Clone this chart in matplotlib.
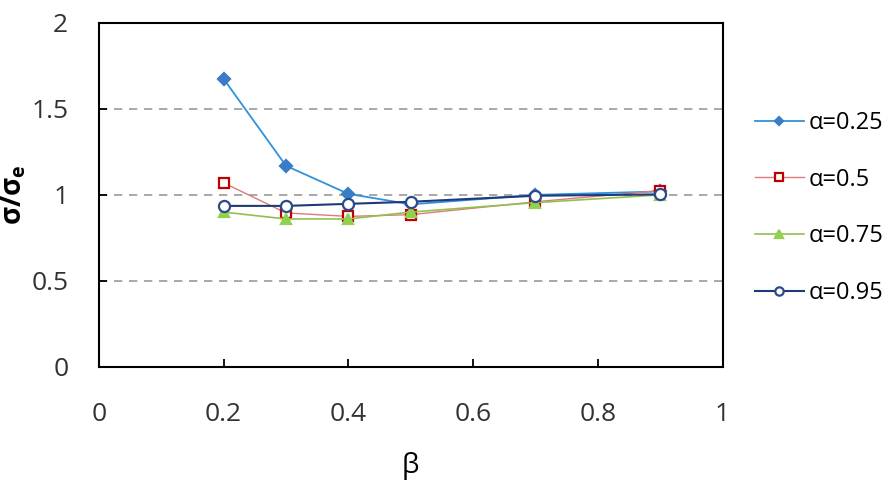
import matplotlib.pyplot as plt

plt.rcParams['font.family'] = ['Open Sans', 'DejaVu Sans']

beta = [0.2, 0.3, 0.4, 0.5, 0.7, 0.9]

a025 = [1.674, 1.169, 1.006, 0.945, 1.0, 1.02]
a050 = [1.07, 0.895, 0.875, 0.885, 0.96, 1.025]
a075 = [0.90, 0.86, 0.86, 0.90, 0.955, 1.0]
a095 = [0.936, 0.936, 0.948, 0.96, 0.995, 1.003]

labels = ['α=0.25', 'α=0.5', 'α=0.75', 'α=0.95']

fig = plt.figure(figsize=(8.91, 4.86), dpi=100)
ax = fig.add_axes([0.111, 0.245, 0.7, 0.708])

# series: (values, line colour, line width, marker, marker face, marker edge, marker size)
styles = [
    (a025, '#2f92dc', 1.3, 'D', '#3a7cc6', '#3a7cc6', 6),
    (a050, '#e07a7a', 1.0, 's', 'white', '#c00000', 7),
    (a075, '#92c050', 1.2, '^', '#92d050', '#92d050', 7.5),
    (a095, '#1f3a7a', 1.5, 'o', 'white', '#2a4a8a', 8),
]

for (vals, lc, lw, mk, mf, me, ms), lab in zip(styles, labels):
    ax.plot(beta, vals, color=lc, lw=lw, marker=mk, markerfacecolor=mf,
            markeredgecolor=me, markersize=ms, markeredgewidth=1.6, label=lab)

for y in [0.5, 1.0, 1.5]:
    ax.axhline(y, color='#999999', lw=1.2, ls=(0, (5, 4)), zorder=0)

ax.set_xlim(0, 1)
ax.set_ylim(0, 2)
ax.set_xticks([0, 0.2, 0.4, 0.6, 0.8, 1])
ax.set_xticklabels(['0', '0.2', '0.4', '0.6', '0.8', '1'])
ax.set_yticks([0, 0.5, 1, 1.5, 2])
ax.set_yticklabels(['0', '0.5', '1', '1.5', '2'])
ax.tick_params(direction='in', length=6, width=1.3, labelsize=19,
               colors='black', labelcolor='#333333')
ax.tick_params(axis='x', pad=25)
ax.tick_params(axis='y', pad=22)
for s in ax.spines.values():
    s.set_linewidth(1.5)

ax.set_xlabel('β', fontsize=20, labelpad=18)
ax.set_ylabel(r'σ/σ$_\mathregular{e}$', fontsize=20, labelpad=2, fontweight='bold')

fig.legend(loc='center left', bbox_to_anchor=(0.823, 0.572), frameon=False,
           fontsize=17, labelspacing=1.38, handlelength=2.1, handletextpad=0.2,
           markerscale=0.75)

fig.savefig('out.png', dpi=100)
